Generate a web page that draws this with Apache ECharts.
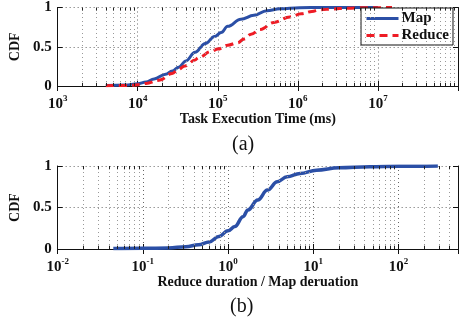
<!DOCTYPE html>
<html>
<head>
<meta charset="utf-8">
<script src="https://cdn.jsdelivr.net/npm/echarts@6/dist/echarts.min.js"></script>
<style>
  html, body { margin: 0; padding: 0; background: #fff; }
  #chart { width: 468px; height: 325px; }
</style>
</head>
<body>
<div id="chart"></div>
<script>
// (a) 任务执行时间 CDF
var mapTimes = [4000, 7000, 10000, 12700, 16000, 22300, 27000, 32500, 40000, 52000, 70000, 91000, 110000, 133000, 194000, 282000, 409000, 600000, 1050000, 2000000, 10000000]
var mapCdf = [0.005, 0.012, 0.03, 0.05, 0.09, 0.15, 0.19, 0.24, 0.32, 0.43, 0.54, 0.63, 0.68, 0.76, 0.85, 0.9, 0.96, 0.984, 0.997, 1.0, 1.0]
var reduceTimes = [4000, 8000, 11000, 12700, 18500, 27000, 32000, 39000, 52000, 57000, 83000, 100000, 133000, 177000, 213000, 260000, 340000, 500000, 795000, 1100000, 1500000, 1870000, 2800000, 4000000, 7000000, 15000000]
var reduceCdf = [0.004, 0.008, 0.02, 0.033, 0.073, 0.16, 0.21, 0.256, 0.33, 0.36, 0.44, 0.47, 0.52, 0.55, 0.60, 0.66, 0.72, 0.81, 0.88, 0.92, 0.95, 0.97, 0.982, 0.99, 0.997, 1.0]
// (b) Reduce / Map 时长比 CDF
var ratioValues = [0.045, 0.1, 0.2, 0.32, 0.45, 0.6, 0.78, 1.0, 1.2, 1.5, 1.71, 2.23, 2.9, 3.78, 4.93, 7.0, 10.9, 20, 46, 100, 290]
var ratioCdf = [0.005, 0.008, 0.013, 0.028, 0.05, 0.085, 0.15, 0.22, 0.27, 0.39, 0.47, 0.59, 0.71, 0.81, 0.87, 0.91, 0.95, 0.978, 0.99, 0.996, 1.0]
var yTicks = [0, 0.5, 1]

var FONT = 'Liberation Serif'

function pairs(xs, ys) {
  return xs.map(function (x, i) { return [x, ys[i]] })
}

// 对数轴次刻度位置 (2..9 × 10^n)
function minorPositions(fromExp, toExp, maxVal) {
  var out = []
  for (var e = fromExp; e < toExp; e++) {
    for (var k = 2; k <= 9; k++) {
      var v = k * Math.pow(10, e)
      if (v < maxVal) out.push(v)
    }
  }
  return out
}

function minorMarks(positions) {
  var data = []
  positions.forEach(function (v) {
    data.push({ xAxis: v, lineStyle: { color: '#999', type: [1, 3], width: 1 } })
    data.push([{ coord: [v, 0] }, { coord: [v, 0.04] }])
    data.push([{ coord: [v, 1] }, { coord: [v, 0.96] }])
  })
  return {
    silent: true,
    symbol: 'none',
    animation: false,
    label: { show: false },
    lineStyle: { color: '#222', type: 'solid', width: 1 },
    data: data
  }
}

function powLabel(v) {
  var e = Math.round(Math.log10(v))
  if (Math.abs(Math.log10(v) - e) > 1e-6) return ''
  return '{b|10}{s|' + e + '}'
}

var axisLabelRich = {
  b: { fontFamily: FONT, fontWeight: 'bold', fontSize: 15, color: '#111' },
  s: { fontFamily: FONT, fontWeight: 'bold', fontSize: 9, color: '#111', padding: [0, 0, 11, 0] }
}

function bottomX(gridIndex, min, max, name) {
  return {
    type: 'log', logBase: 10, gridIndex: gridIndex, min: min, max: max, position: 'bottom',
    name: name, nameLocation: 'middle', nameGap: 23,
    nameTextStyle: { fontFamily: FONT, fontWeight: 'bold', fontSize: 14, color: '#111' },
    axisLine: { lineStyle: { color: '#111', width: 1 } },
    axisTick: { inside: true, length: 5, lineStyle: { color: '#111' } },
    axisLabel: { margin: 8, formatter: powLabel, rich: axisLabelRich, showMaxLabel: false },
    splitLine: { show: true, lineStyle: { color: '#666', type: [1, 3], width: 1 } },
    minorTick: { show: false }
  }
}

function topX(gridIndex, min, max) {
  return {
    type: 'log', logBase: 10, gridIndex: gridIndex, min: min, max: max, position: 'top',
    axisLine: { lineStyle: { color: '#111', width: 1 } },
    axisTick: { inside: true, length: 5, lineStyle: { color: '#111' } },
    axisLabel: { show: false },
    splitLine: { show: false }
  }
}

function leftY(gridIndex) {
  return {
    type: 'value', gridIndex: gridIndex, min: 0, max: 1, interval: 0.5,
    name: 'CDF', nameLocation: 'middle', nameGap: 30, nameRotate: 90,
    nameTextStyle: { fontFamily: FONT, fontWeight: 'bold', fontSize: 14, color: '#111' },
    axisLine: { show: true, lineStyle: { color: '#111', width: 1 } },
    axisTick: { show: true, inside: true, length: 5, lineStyle: { color: '#111' } },
    axisLabel: {
      margin: 6, fontFamily: FONT, fontWeight: 'bold', fontSize: 15, color: '#111',
      formatter: function (v) { return yTicks.indexOf(v) >= 0 ? String(v) : '' }
    },
    splitLine: { show: true, lineStyle: { color: '#666', type: [1, 3], width: 1 } }
  }
}

function rightY(gridIndex) {
  return {
    type: 'value', gridIndex: gridIndex, min: 0, max: 1, interval: 0.5, position: 'right',
    axisLine: { show: true, lineStyle: { color: '#111', width: 1 } },
    axisTick: { show: true, inside: true, length: 5, lineStyle: { color: '#111' } },
    axisLabel: { show: false },
    splitLine: { show: false }
  }
}

var myChart = echarts.init(document.getElementById('chart'), null, { renderer: 'canvas' })

myChart.setOption({
  backgroundColor: '#fff',
  animation: false,
  grid: [
    { left: 50, right: 10, top: 4, height: 82 },
    { left: 49, right: 10, top: 166, height: 83 }
  ],
  xAxis: [
    bottomX(0, 1e3, 1e8, 'Task Execution Time (ms)'),
    topX(0, 1e3, 1e8),
    bottomX(1, 0.01, 500, 'Reduce duration / Map deruation'),
    topX(1, 0.01, 500)
  ],
  yAxis: [leftY(0), rightY(0), leftY(1), rightY(1)],
  legend: {
    data: ['Map', 'Reduce'],
    orient: 'vertical',
    left: 361, top: 8,
    padding: [3, 4, 2, 4],
    itemGap: 2,
    itemWidth: 32, itemHeight: 16,
    backgroundColor: '#fff',
    borderColor: '#111', borderWidth: 1,
    selectedMode: false,
    itemStyle: { opacity: 0, borderWidth: 0 },
    lineStyle: { width: 3 },
    textStyle: { fontFamily: FONT, fontWeight: 'bold', fontSize: 15, color: '#111', padding: [0, 0, 0, -2] }
  },
  graphic: [
    { type: 'text', left: 232, top: 135, style: { text: '(a)', font: '20px "Liberation Serif"', fill: '#111' } },
    { type: 'text', left: 230, top: 297, style: { text: '(b)', font: '20px "Liberation Serif"', fill: '#111' } }
  ],
  series: [
    {
      name: 'Map', type: 'line', xAxisIndex: 0, yAxisIndex: 0, z: 3,
      showSymbol: false, symbol: 'none', smooth: 0.4, smoothMonotone: 'x',
      lineStyle: { color: '#2b4fa6', width: 3 }, itemStyle: { color: '#2b4fa6' },
      data: pairs(mapTimes, mapCdf),
      markLine: minorMarks(minorPositions(3, 8, 1e8))
    },
    {
      name: 'Reduce', type: 'line', xAxisIndex: 0, yAxisIndex: 0, z: 3,
      showSymbol: false, symbol: 'none', smooth: 0.4, smoothMonotone: 'x',
      lineStyle: { color: '#ee1c25', width: 3, type: [8, 5] }, itemStyle: { color: '#ee1c25' },
      data: pairs(reduceTimes, reduceCdf)
    },
    {
      name: 'Ratio', type: 'line', xAxisIndex: 2, yAxisIndex: 2, z: 3,
      showSymbol: false, symbol: 'none', smooth: 0.4, smoothMonotone: 'x',
      lineStyle: { color: '#2b4fa6', width: 3.5 }, itemStyle: { color: '#2b4fa6' },
      data: pairs(ratioValues, ratioCdf),
      markLine: minorMarks(minorPositions(-2, 3, 500))
    }
  ]
})
</script>
</body>
</html>
